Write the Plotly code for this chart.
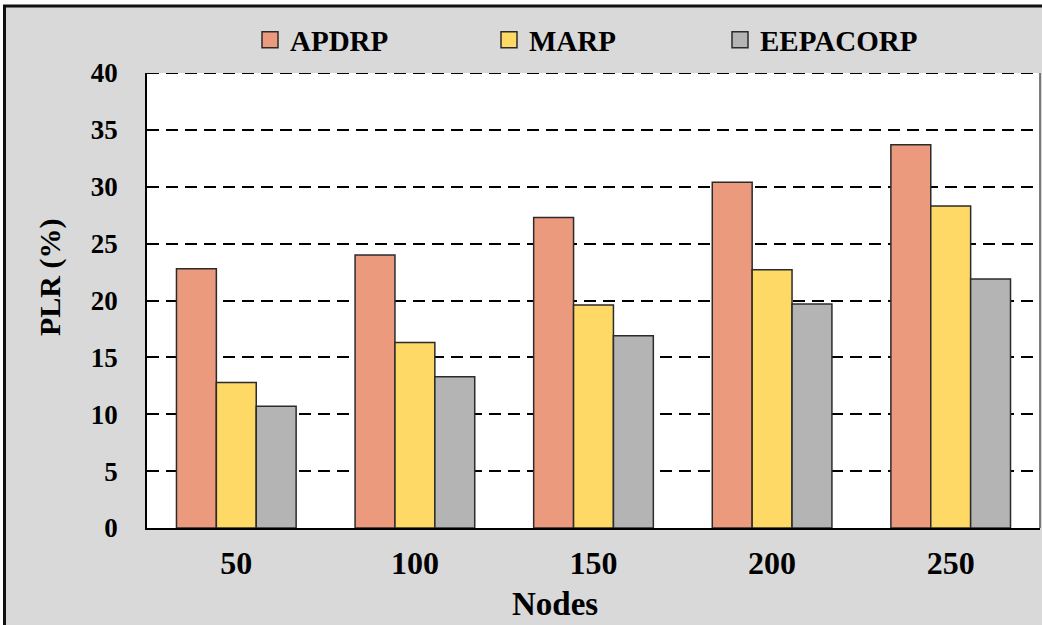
import plotly.graph_objects as go

# Packet loss ratio per node count for three routing protocols
nodes = ["50", "100", "150", "200", "250"]
apdrp = [22.8, 24.0, 27.3, 30.4, 33.7]
marp = [12.8, 16.3, 19.6, 22.7, 28.3]
eepacorp = [10.7, 13.3, 16.9, 19.7, 21.9]
y_ticks = [0, 5, 10, 15, 20, 25, 30, 35, 40]

W, H = 1042, 625
ML, MR, MT, MB = 147, 2, 73, 97
PW, PH = W - ML - MR, H - MT - MB


def px_x(px):
    return (px - ML) / PW


def px_y(py):
    return (H - MB - py) / PH


FONT = "Liberation Serif, Times New Roman, serif"
EDGE = "#2b2b2b"
series = [
    ("APDRP", apdrp, "#EC9A7E", "legend", 250),
    ("MARP", marp, "#FFD966", "legend2", 489),
    ("EEPACORP", eepacorp, "#B4B4B4", "legend3", 720),
]

fig = go.Figure()
for name, vals, color, leg, _ in series:
    fig.add_trace(go.Bar(
        x=nodes, y=vals, name=name, showlegend=False,
        marker=dict(color=color, line=dict(color=EDGE, width=1.5)),
    ))
# square legend keys, one legend box per series
for name, vals, color, leg, _ in series:
    fig.add_trace(go.Scatter(
        x=[nodes[0]], y=[None], name=name, legend=leg, mode="markers",
        marker=dict(symbol="square", size=16, color=color,
                    line=dict(color=EDGE, width=1.5)),
        hoverinfo="skip",
    ))

legend_common = dict(
    orientation="h", yanchor="middle", xanchor="left",
    bgcolor="rgba(0,0,0,0)", borderwidth=0, itemsizing="trace",
    font=dict(family=FONT, size=29, color="black", weight="bold"),
)
layout_legends = {}
for name, vals, color, leg, xpx in series:
    layout_legends[leg] = dict(legend_common, x=px_x(xpx), y=px_y(40))

fig.update_layout(
    width=W, height=H,
    margin=dict(l=ML, r=MR, t=MT, b=MB, pad=0),
    paper_bgcolor="#D9D9D9",
    plot_bgcolor="white",
    barmode="group", bargap=0.33, bargroupgap=0,
    showlegend=True,
    font=dict(family=FONT, color="black"),
    xaxis=dict(
        showline=True, linecolor="black", linewidth=2,
        showgrid=False, ticks="", ticklabelstandoff=6,
        tickfont=dict(family=FONT, size=32, color="black", weight="bold"),
    ),
    yaxis=dict(
        range=[0, 40], tickvals=y_ticks,
        showline=True, linecolor="black", linewidth=1.5,
        showgrid=True, gridcolor="black", gridwidth=2, griddash="12px,7px",
        zeroline=False, ticks="", ticklabelstandoff=22,
        tickfont=dict(family=FONT, size=27, color="black", weight="bold"),
    ),
    annotations=[
        dict(text="Nodes", xref="paper", yref="paper",
             x=px_x(555), y=px_y(604), xanchor="center", yanchor="middle",
             showarrow=False,
             font=dict(family=FONT, size=33, color="black", weight="bold")),
        dict(text="PLR (%)", xref="paper", yref="paper", textangle=-90,
             x=px_x(50), y=px_y(278), xanchor="center", yanchor="middle",
             showarrow=False,
             font=dict(family=FONT, size=30, color="black", weight="bold")),
    ],
    shapes=[
        # dashed grid line along the top of the plotting area (y = 40)
        dict(type="line", xref="paper", yref="y", x0=0, x1=1, y0=40, y1=40,
             line=dict(color="black", width=2, dash="12px,7px")),
        # right edge of the plotting area
        dict(type="line", xref="paper", yref="paper", x0=1, x1=1, y0=0, y1=1,
             line=dict(color="#555555", width=1.5)),
        # white margin outside the frame
        dict(type="rect", xref="paper", yref="paper",
             x0=px_x(0), x1=px_x(W), y0=px_y(0), y1=px_y(5),
             fillcolor="white", line=dict(width=0)),
        dict(type="rect", xref="paper", yref="paper",
             x0=px_x(0), x1=px_x(3), y0=px_y(0), y1=px_y(H),
             fillcolor="white", line=dict(width=0)),
        # outer frame
        dict(type="line", xref="paper", yref="paper",
             x0=px_x(3), x1=px_x(W), y0=px_y(6), y1=px_y(6),
             line=dict(color="#111111", width=3)),
        dict(type="line", xref="paper", yref="paper",
             x0=px_x(4.5), x1=px_x(4.5), y0=px_y(5), y1=px_y(H),
             line=dict(color="#111111", width=3)),
    ],
    **layout_legends,
)

fig.write_html("out.html")
